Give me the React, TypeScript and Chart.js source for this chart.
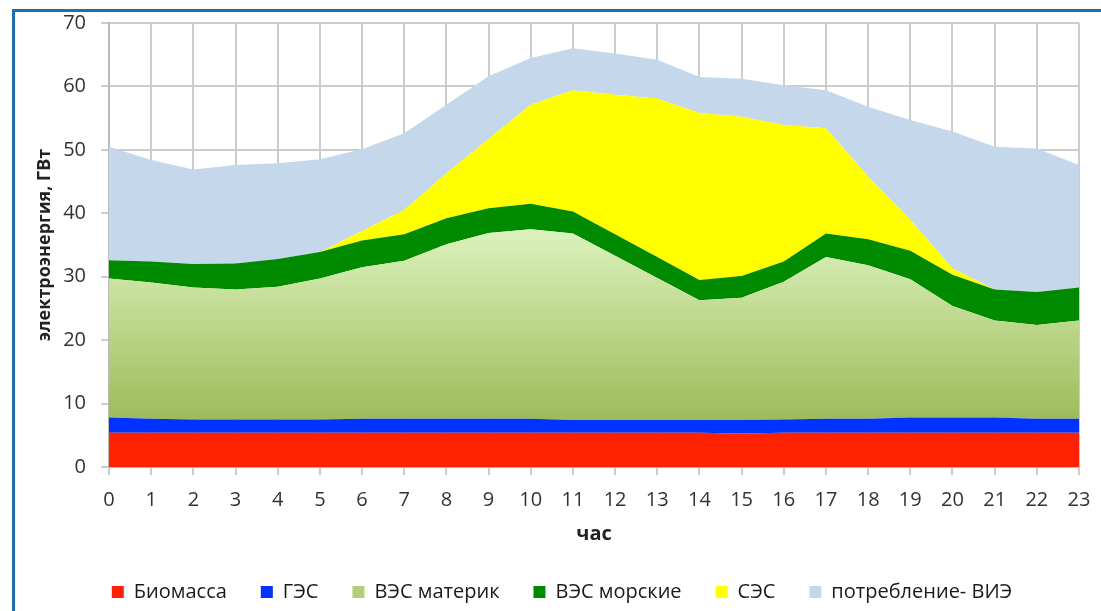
import React, { useEffect, useRef } from 'react';
import { Chart, registerables } from 'chart.js';

Chart.register(...registerables);

const hours = ['0','1','2','3','4','5','6','7','8','9','10','11','12','13','14','15','16','17','18','19','20','21','22','23'];

const biomass = [5.4,5.4,5.4,5.4,5.4,5.4,5.4,5.4,5.4,5.4,5.4,5.4,5.4,5.4,5.4,5.3,5.4,5.4,5.4,5.4,5.4,5.4,5.4,5.4];
const hydro = [2.4,2.2,2.1,2.1,2.1,2.1,2.2,2.2,2.2,2.2,2.2,2.0,2.0,2.0,2.0,2.1,2.1,2.2,2.2,2.4,2.4,2.4,2.2,2.2];
const windOnshore = [21.9,21.5,20.8,20.5,20.9,22.2,23.9,24.9,27.5,29.3,29.9,29.4,25.9,22.4,18.9,19.3,21.7,25.5,24.2,21.8,17.6,15.3,14.8,15.5];
const windOffshore = [2.9,3.3,3.7,4.1,4.4,4.2,4.2,4.2,4.1,3.9,4.0,3.5,3.4,3.3,3.2,3.4,3.2,3.7,4.1,4.5,4.9,4.9,5.2,5.2];
const solar = [0,0,0,0,0,0,1.5,3.8,7.1,10.9,15.6,19.1,22.0,25.0,26.3,25.1,21.5,16.6,9.9,4.9,1.0,0,0,0];
const residual = [17.9,16.0,14.9,15.5,15.1,14.6,12.9,12.1,10.8,9.9,7.4,6.6,6.5,6.1,5.7,6.0,6.3,6.0,11.0,15.7,21.6,22.5,22.6,19.3];

const seriesNames = ['Биомасса','ГЭС','ВЭС материк','ВЭС морские','СЭС','потребление- ВИЭ'];
const yMin = 0;
const yMax = 70;
const yStep = 10;
const yTitle = 'электроэнергия, ГВт';
const xTitle = 'час';

const FONT = "'Open Sans', 'Noto Sans', sans-serif";

export default function App() {
  const ref = useRef<HTMLCanvasElement>(null);

  useEffect(() => {
    const canvas = ref.current;
    if (!canvas) return;

    const onshoreFill = (ctx: any) => {
      const chart = ctx.chart;
      const area = chart.chartArea;
      const y = chart.scales && chart.scales.y;
      if (!area || !y) return '#b9d583';
      const top = y.getPixelForValue(37.5);
      const bottom = y.getPixelForValue(7.4);
      const g = chart.ctx.createLinearGradient(0, top, 0, bottom);
      g.addColorStop(0, '#dcf2bd');
      g.addColorStop(1, '#9ebb5a');
      return g;
    };

    const mk = (label: string, data: number[], color: any, fill: any) => ({
      label,
      data,
      backgroundColor: color,
      borderColor: 'rgba(0,0,0,0)',
      borderWidth: 0,
      pointRadius: 0,
      pointHoverRadius: 0,
      tension: 0,
      fill,
    });

    const legendColors = ['#ff2200', '#0033ff', '#b3cf7b', '#008a00', '#ffff00', '#c5d7ea'];

    const chart = new Chart(canvas, {
      type: 'line',
      data: {
        labels: hours,
        datasets: [
          mk(seriesNames[0], biomass, '#ff2200', 'origin'),
          mk(seriesNames[1], hydro, '#0033ff', '-1'),
          mk(seriesNames[2], windOnshore, onshoreFill, '-1'),
          mk(seriesNames[3], windOffshore, '#008a00', '-1'),
          mk(seriesNames[4], solar, '#ffff00', '-1'),
          mk(seriesNames[5], residual, '#c5d7ea', '-1'),
        ] as any,
      },
      options: {
        responsive: false,
        maintainAspectRatio: false,
        animation: false,
        events: [],
        layout: { padding: { left: 45, right: 22, top: 23, bottom: -1 } },
        elements: { line: { borderWidth: 0 } },
        plugins: {
          tooltip: { enabled: false },
          title: { display: false },
          legend: {
            display: true,
            position: 'bottom',
            labels: {
              boxWidth: 12,
              boxHeight: 12,
              padding: 34,
              color: '#1a1a1a',
              font: { family: FONT, size: 20 },
              generateLabels: (ch: any) => {
                const items = (Chart.defaults.plugins.legend.labels as any).generateLabels(ch);
                return items.map((it: any, i: number) => ({
                  ...it,
                  fillStyle: legendColors[i],
                  strokeStyle: 'rgba(0,0,0,0)',
                  lineWidth: 0,
                }));
              },
            },
          },
        },
        scales: {
          x: {
            type: 'category',
            offset: false,
            afterFit: (s: any) => { s.height = 81; },
            grid: { color: '#cccccc', lineWidth: 2, tickLength: 8, drawTicks: true },
            border: { display: true, color: '#bbbbbb', width: 2 },
            ticks: { color: '#333', font: { family: FONT, size: 20, lineHeight: 2.25 }, padding: 3, maxRotation: 0, autoSkip: false },
            title: { display: true, text: xTitle, color: '#222', font: { family: FONT, size: 20, weight: 'bold', lineHeight: 1.0 }, padding: { top: 0, bottom: 4 } },
          },
          y: {
            stacked: true,
            min: yMin,
            max: yMax,
            afterFit: (s: any) => { s.width = 64; },
            grid: { color: '#cccccc', lineWidth: 2, tickLength: 8, drawTicks: true },
            border: { display: true, color: '#bbbbbb', width: 2 },
            ticks: { stepSize: yStep, color: '#333', font: { family: FONT, size: 20, lineHeight: 0.5 }, padding: 15 },
            title: { display: true, text: yTitle, color: '#222', font: { family: FONT, size: 18, weight: 'bold' }, padding: { top: -11.3, bottom: 0 } },
          },
        },
      } as any,
    });

    return () => chart.destroy();
  }, []);

  return (
    <div style={{ position: 'fixed', left: 0, top: 0, width: 1101, height: 611, overflow: 'hidden', background: '#fff' }}>
      <canvas ref={ref} width={1101} height={611} style={{ position: 'absolute', left: 0, top: 0, width: 1101, height: 611 }} />
      <div style={{ position: 'absolute', left: 12, top: 9, width: 1200, height: 800, border: '3px solid #1f6fb2', pointerEvents: 'none' }} />
    </div>
  );
}
